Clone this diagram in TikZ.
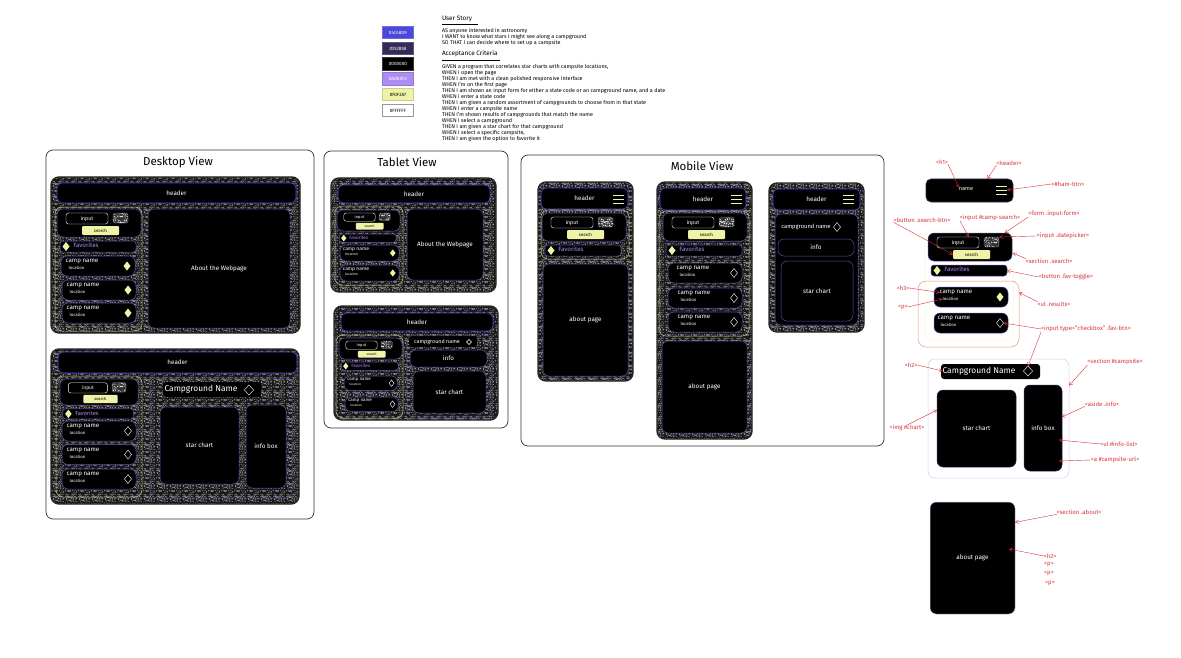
\documentclass[tikz,border=0pt]{standalone}
\usepackage{fontspec}
\setmainfont{Fira Sans}
\usetikzlibrary{arrows,patterns,shapes.geometric}
\definecolor{brandBlue}{HTML}{4C48D9}
\definecolor{brandNavy}{HTML}{352B58}
\definecolor{brandPurple}{HTML}{AD8DF2}
\definecolor{brandYellow}{HTML}{F0F2A7}
\definecolor{cardLine}{HTML}{5A4BB0}
\definecolor{noteRed}{HTML}{D8343A}
\definecolor{grainGray}{HTML}{B0B0B0}
\newcommand{\fs}[1]{\fontsize{#1}{#1}\selectfont}
\pgfdeclarepatternformonly{grain}{\pgfpointorigin}{\pgfpoint{13bp}{13bp}}{\pgfpoint{13bp}{13bp}}{%
  \foreach \i in {1,...,90} {
    \pgfmathsetmacro{\gx}{mod(\i*4.37,12.4)}
    \pgfmathsetmacro{\gy}{mod(\i*\i*1.73+\i*2.9,12.4)}
    \pgfpathrectangle{\pgfpoint{\gx bp}{\gy bp}}{\pgfpoint{.6bp}{.6bp}}
  }
  \pgfusepath{fill}
}
\tikzset{
  base/.style = {inner sep=0pt, outer sep=0pt, align=center},
  box/.style args = {#1/#2/#3/#4}{at={({(#1+#3)/2},{(#2+#4)/2})},
    minimum width={#3-#1}, minimum height={#4-#2}},
  view/.style = {base, rectangle, draw=black!80, line width=.7pt, rounded corners=7pt},
  panel/.style = {base, rectangle, draw=black!85, line width=1.4pt, rounded corners=8pt,
    preaction={fill=black!90}, pattern=grain, pattern color=grainGray},% grainy frame
  header/.style = {base, rectangle, draw=brandBlue, line width=.6pt, fill=black,
    rounded corners=5pt, text=white, font=\fs{6.3}},
  pane/.style = {base, rectangle, draw=cardLine, line width=.5pt, fill=black,
    rounded corners=6pt, text=white, font=\fs{6.3}},
  ghost/.style = {base, rectangle, draw=cardLine, line width=.5pt, rounded corners=7pt},
  ring/.style = {base, rectangle, draw=brandYellow!80!black, line width=.5pt, rounded corners=7pt},
  inputbox/.style = {base, rectangle, draw=white, line width=.4pt, fill=black,
    rounded corners=2.5pt, text=white, font=\fs{5.3}},
  datebox/.style = {base, rectangle, draw=gray, line width=.3pt, rounded corners=1.5pt,
    preaction={fill=black!80}, pattern=grain, pattern color=white},
  searchbtn/.style = {base, rectangle, fill=brandYellow, rounded corners=1pt, font=\fs{4.4}},
  favOn/.style = {base, diamond, fill=brandYellow, minimum width=7pt, minimum height=9pt},
  favOff/.style = {base, diamond, draw=white, line width=.4pt, minimum width=7pt, minimum height=9pt},
  camp/.style = {base, text=white, font=\fs{6.2}},
  place/.style = {base, text=white, font=\fs{4.3}},
  favtxt/.style = {base, text=brandPurple, font=\fs{6.2}},
  title/.style = {base, font=\fs{11.5}},
  burger/.style = {draw=brandYellow, line width=.8pt},
  swatch/.style = {base, rectangle, line width=.8pt, minimum width=31pt, minimum height=12.5pt,
    text=white, font=\fs{4.6}},
  heading/.style = {base, anchor=west, font=\fs{6.4}},
  story/.style = {base, anchor=north west, align=left, font=\fontsize{5.4}{6}\selectfont},
  note/.style = {base, text=noteRed, font=\fs{6}},
  link/.style = {draw=noteRed, line width=.4pt, ->, >=angle 60}
}
\begin{document}
\begin{tikzpicture}[x=1pt,y=-1pt]
  \useasboundingbox (0,0) rectangle (1181,658);

  % palette
  \foreach \nm/\y/\col/\hex in {a/32.5/brandBlue/4C48D9, b/48.5/brandNavy/352B58, c/64/black/000000}
    \node [swatch, fill=\col, draw=\col!80] (sw\nm) at (398,\y) {\#\hex};
  \node [swatch, fill=brandPurple, draw=brandPurple!85!black] (swd) at (398,79) {\#AD8DF2};
  \node [swatch, fill=brandYellow, draw=brandYellow!85!black, text=black] (swe) at (398,94.5) {\#F0F2A7};
  \node [swatch, fill=white, draw=black!40, text=black] (swf) at (398,110.5) {\#FFFFFF};

  % story text
  \node [heading] (hdStory) at (442,19) {User Story};
  \draw [line width=.6pt] (442,24) -- (478,24);
  \node [story] (txtStory) at (442,28.5) {AS anyone interested in astronomy\\
    I WANT to know what stars I might see along a campground\\
    SO THAT I can decide where to set up a campsite};
  \node [heading] (hdCriteria) at (442,54) {Acceptance Criteria};
  \draw [line width=.6pt] (442,60) -- (500,60);
  \node [story] (txtCriteria) at (442,64) {GIVEN a program that correlates star charts with campsite locations,\\
    WHEN I open the page\\
    THEN I am met with a clean polished responsive interface\\
    WHEN I'm on the first page\\
    THEN I am shown an input form for either a state code or an campground name, and a date\\
    WHEN I enter a state code\\
    THEN I am given a random assortment of campgrounds to choose from in that state\\
    WHEN I enter a campsite name\\
    THEN I'm shown results of campgrounds that match the name\\
    WHEN I select a campground\\
    THEN I am given a star chart for that campground\\
    WHEN I select a specific campsite,\\
    THEN I am given the option to favorite it};

  % view frames
  \node [view, box=46/150/314/519] (frDesktop) {};
  \node [title] (ttDesktop) at (178,162) {Desktop View};
  \node [view, box=324/151/508/428] (frTablet) {};
  \node [title] (ttTablet) at (407,162) {Tablet View};
  \node [view, box=521/155/884/446] (frMobile) {};
  \node [title] (ttMobile) at (702,166) {Mobile View};

  % desktop
  \node [panel, box=51/177/300/333] (dOne) {};
  \node [header, box=57/183/296/203] (dOneHead) {header};
  \node [ring, box=55/207/142/331] (dOneRing) {};
  \node [pane, box=148/209/290/328] (dOneAbout) {About the Webpage};
  \node [panel, box=51/349/299/504] (dTwo) {};
  \node [header, box=58/352/297/373] (dTwoHead) {header};
  \node [ring, box=56/376/142/497] (dTwoRing) {};
  \node [ghost, box=150/378/292/498] (dTwoSite) {};
  \node [pane, draw=none, rounded corners=3pt, box=163/382/261/397] (dTwoBar) {};
  \node [base, text=white, font=\fs{8.4}] (dTwoName) at (201,389) {Campground Name};
  \node [favOff, minimum width=9pt, minimum height=10pt] (dTwoDia) at (249,390) {};
  \node [pane, box=160/407/239/484] (dTwoChart) {star chart};
  \node [pane, box=246/405/286/488] (dTwoInfo) {info box};

  % tablet
  \node [panel, box=331/178/496/292] (tOne) {};
  \node [header, box=338/185/490/203] (tOneHead) {header};
  \node [ring, box=335/206/403/285] (tOneRing) {};
  \node [pane, box=407/209/483/280] (tOneAbout) {About the Webpage};
  \node [panel, box=334/306/498/420] (tTwo) {};
  \node [header, box=341/313/493/331] (tTwoHead) {header};
  \node [ring, box=336/335/403/418] (tTwoRing) {};
  \node [ghost, box=407/335/492/417] (tTwoSite) {};
  \node [pane, draw=none, rounded corners=3pt, box=409/336/477/347] (tTwoBar) {};
  \node [base, text=white, font=\fs{5.4}] (tTwoName) at (437,342) {campground name};
  \node [favOff, minimum width=5pt, minimum height=5pt] (tTwoDia) at (469,342) {};
  \node [pane, box=410/350/487/367] (tTwoInfo) {info};
  \node [pane, box=413/371/486/413] (tTwoChart) {star chart};

  % mobile
  \node [panel, box=538/182/633/381] (mOne) {};
  \node [header, box=541/188/628/209] (mOneHead) {header};
  \node [ring, box=541/210/629/259] (mOneRing) {};
  \node [pane, box=543/264/628/376] (mOneAbout) {about page};
  \node [panel, box=657/182/752/439] (mTwo) {};
  \node [header, box=660/188/746/210] (mTwoHead) {header};
  \node [ring, box=659/211/749/336] (mTwoRing) {};
  \node [pane, box=662/341/747/433] (mTwoAbout) {about page};
  \node [panel, box=769/183/864/332] (mThr) {};
  \node [header, box=773/189/860/210] (mThrHead) {header};
  \node [pane, box=775/214/858/325] (mThrSite) {};
  \node [base, text=white, font=\fs{5.8}] (mThrName) at (806,227) {campground name};
  \node [favOff] (mThrDia) at (837,227) {};
  \node [pane, box=778/239/854/256] (mThrInfo) {info};
  \node [pane, box=781/261/853/321] (mThrChart) {star chart};

  % annotated key
  \node [header, draw=brandNavy, box=926/179/1013/202] (keyHead) {};
  \node [base, text=white, font=\fs{5.6}] (keyName) at (966,189) {name};
  \node [base, minimum width=11pt, minimum height=10pt] (keyHam) at (1001.5,190) {};
  \node [base, rectangle, draw=brandYellow!60, line width=.5pt, rounded corners=7pt, box=925/230/1013/340] (keyRing) {};
  \node [base, rectangle, draw=noteRed!55, line width=.5pt, rounded corners=8pt, box=918/281/1019/347] (keyRes) {};
  \node [base, rectangle, draw=brandPurple!50, line width=.5pt, rounded corners=7pt, box=928/359/1069/478] (keySite) {};
  \node [pane, draw=none, rounded corners=3pt, box=941/364/1040/379] (keyBar) {};
  \node [base, text=white, font=\fs{8.4}] (keySiteName) at (979,371) {Campground Name};
  \node [favOff, minimum width=9pt, minimum height=10pt] (keyDia) at (1028,371) {};
  \node [pane, draw=brandNavy, box=937/390/1016/467] (keyChart) {star chart};
  \node [pane, draw=brandNavy, box=1024/385/1062/471] (keyInfo) {info box};
  \node [pane, draw=brandPurple!50, box=930/502/1015/614] (keyAbout) {about page};

  % search block, same for every view
  \foreach \id/\x/\y/\s in {dOne/57/209/1, dTwo/60/379/.93, tOne/337/210/.75, tTwo/339/338/.75,
      mOne/542/213/1, mTwo/663/213/1, key/928/233/1}
  {
    \begin{scope}[shift={(\x,\y)},scale=\s,nodes={transform shape}]
      \node [pane, box=0/0/84/28] (\id-form) {};
      \node [inputbox, box=9/4/51/15] (\id-input) {input};
      \node [datebox, box=56/4/71/14] (\id-date) {};
      \node [searchbtn, box=25/17/62/26] (\id-search) {search};
      \node [pane, rounded corners=3pt, box=3/32/79/43] (\id-fav) {};
      \node [favOn] (\id-star) at (9,37.5) {};
      \node [favtxt] (\id-favtxt) at (29,36.5) {Favorites};
    \end{scope}
  }

  % camp cards
  \foreach \id/\x/\y/\s/\dia/\tx in {dOneA/61/256/1/favOn/21, dOneB/62/280/1/favOn/21, dOneC/62/303/1/favOn/21,
      dTwoA/62/421/1/favOff/21, dTwoB/62/444.5/1/favOff/21, dTwoC/62/469/1/favOff/21,
      tOneA/340/245/.8/favOn/20, tOneB/340/265/.8/favOn/20, tTwoA/344/376/.72/favOff/21, tTwoB/345/397/.72/favOff/21,
      mTwoA/668/263/1/favOff/25, mTwoB/668/288/1/favOff/26, mTwoC/668/312/1/favOff/26,
      keyA/934/287/1/favOn/22, keyB/934/313/1/favOff/20}
  {
    \begin{scope}[shift={(\x,\y)},scale=\s,nodes={transform shape}]
      \node [pane, box=0/0/74/20] (\id-card) {};
      \node [camp] (\id-name) at (\tx,5.5) {camp name};
      \node [place] (\id-loc) at (\tx-5.5,12) {location};
      \node [\dia] (\id-dia) at (66,10) {};
    \end{scope}
  }

  % hamburger buttons
  \foreach \x/\y in {613/195, 731/195, 843/195, 996/186}
    \foreach \k in {0,4,8}
      \draw [burger] (\x,\y+\k) -- ++(10.5,0);

  % notes on the key
  \node [note] (lbHone) at (942,162) {<h1>};
  \node [note] (lbHeader) at (1009,163) {<header>};
  \node [note] (lbHam) at (1068,184) {<\#ham-btn>};
  \node [note] (lbSearchBtn) at (922,220) {<button .search-btn>};
  \node [note] (lbCampSearch) at (990,218) {<input \#camp-search>};
  \node [note] (lbForm) at (1054,214) {<form .input-form>};
  \node [note] (lbDate) at (1063,236) {<input .datepicker>};
  \node [note] (lbSection) at (1049,261) {<section .search>};
  \node [note] (lbFav) at (1066,277) {<button .fav-toggle>};
  \node [note] (lbHthree) at (903,288) {<h3>};
  \node [note] (lbP) at (903,307) {<p>};
  \node [note] (lbUl) at (1054,304) {<ul .results>};
  \node [note] (lbCheck) at (1086,329) {<input type="checkbox" .fav-btn>};
  \node [note] (lbHtwo) at (911,365) {<h2>};
  \node [note] (lbSite) at (1115,362) {<section \#campsite>};
  \node [note] (lbAside) at (1102,404) {<aside .info>};
  \node [note] (lbImg) at (907,428) {<img \#chart>};
  \node [note] (lbList) at (1119,444) {<ul \#info-list>};
  \node [note] (lbUrl) at (1115,460) {<a \#campsite-url>};
  \node [note] (lbAbout) at (1079,512) {<section .about>};
  \node [note] (lbAboutH) at (1050,556) {<h2>};
  \node [note] (lbAboutA) at (1049,564) {<p>};
  \node [note] (lbAboutB) at (1049,573) {<p>};
  \node [note] (lbAboutC) at (1050,583) {<p>};

  \coordinate (endList) at (1059,440);
  \coordinate (endUrl) at (1059,461);
  \coordinate (endAbout) at (1009,549);

  \draw [link] (lbHone.south east) -- (keyName.north west);
  \draw [link] (lbHeader.south west) -- (keyHead.33);
  \draw [link] (lbHam.west) -- (keyHam.east);
  \draw [link] (lbSearchBtn.south west) -- (key-search.west);
  \draw [link] (lbCampSearch.south west) -- (key-input.27);
  \draw [link] (lbForm.south west) -- (key-form.22);
  \draw [link] (lbDate.west) -- (key-date.north east);
  \draw [link] (lbSection.north west) -- (keyRing.36);
  \draw [link] (lbFav.west) -- (key-fav.east);
  \draw [link] (lbHthree.east) -- (keyA-name.west);
  \draw [link] (lbP.east) -- (keyA-loc.west);
  \draw [link] (lbUl.north west) -- (keyRes.23);
  \draw [link] (lbCheck.west) -- (keyB-dia.east);
  \draw [link] (lbCheck.south west) -- (keyDia.north);
  \draw [link] (lbHtwo.east) -- (keySiteName.west);
  \draw [link] (lbSite.south west) -- (keySite.25);
  \draw [link] (lbAside.south west) -- (keyInfo.30);
  \draw [link] (lbImg.north) -- (keyChart.155);
  \draw [link] (lbList.west) -- (endList);
  \draw [link] (lbUrl.west) -- (endUrl);
  \draw [link] (lbAbout.south west) -- (keyAbout.40);
  \draw [link] (lbAboutH.west) -- (endAbout);
\end{tikzpicture}
\end{document}
